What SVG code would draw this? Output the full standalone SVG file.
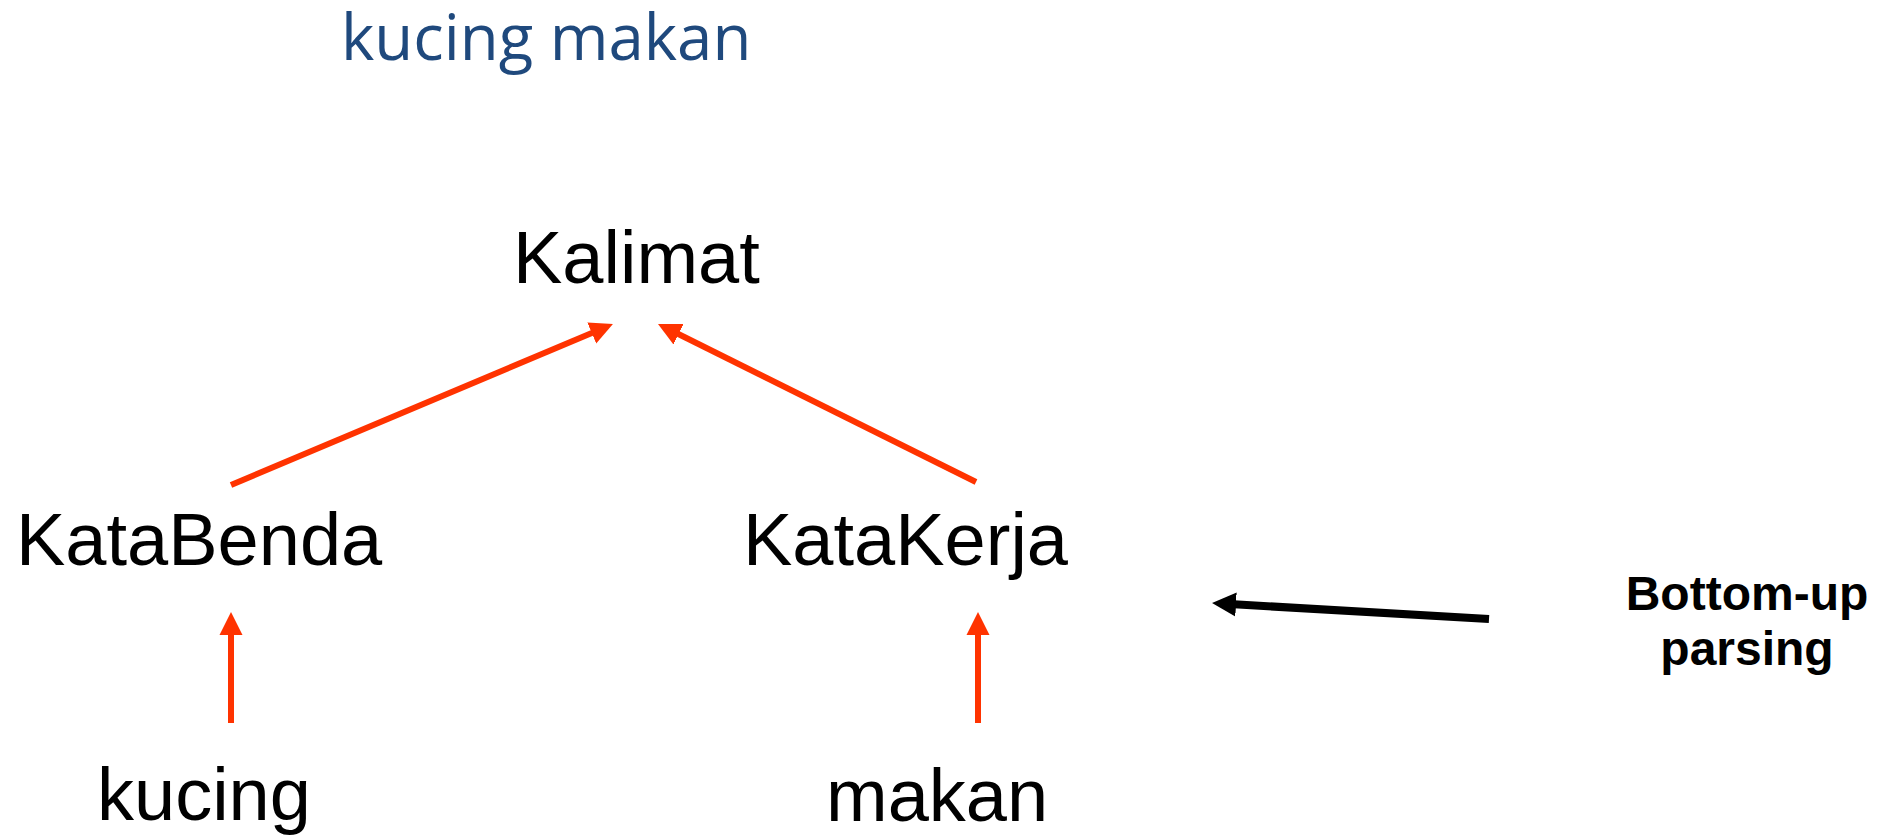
<svg xmlns="http://www.w3.org/2000/svg" width="1890" height="836" viewBox="0 0 1890 836">
<style>
.n{font-family:"Liberation Sans",Arial,sans-serif;font-size:74px;fill:#000}
.t{font-family:"Open Sans","Noto Sans",sans-serif;font-size:63.5px;fill:#1F497D}
.b{font-family:"Liberation Sans",Arial,sans-serif;font-size:48px;font-weight:bold;fill:#000;text-anchor:middle}
.r{stroke:#FF3300;stroke-width:6;fill:none}
.k{stroke:#000;stroke-width:8;fill:none}
</style>
<defs>
<marker id="ar" markerUnits="userSpaceOnUse" viewBox="0 -12 24 24" markerWidth="24" markerHeight="24" refX="2" refY="0" orient="auto"><path d="M0,-11.5 L23,0 L0,11.5 z" fill="#FF3300"/></marker>
<marker id="ak" markerUnits="userSpaceOnUse" viewBox="0 -13 25 26" markerWidth="25" markerHeight="26" refX="2" refY="0" orient="auto"><path d="M0,-12 L24,0 L0,12 z" fill="#000"/></marker>
</defs>
<text class="t" x="341" y="60">kucing makan</text>
<g id="kalimat"><text class="n" x="513" y="283">Kalimat</text></g>
<g id="katabenda"><text class="n" x="16" y="565">KataBenda</text></g>
<g id="katakerja"><text class="n" x="743" y="565">KataKerja</text></g>
<g id="kucing"><text class="n" x="97" y="820">kucing</text></g>
<g id="makan"><text class="n" x="826" y="821">makan</text></g>
<g id="label"><text class="b" x="1747" y="610">Bottom-up</text><text class="b" x="1747" y="665">parsing</text></g>
<g id="connectors">
<line class="r" x1="231" y1="485" x2="593.6" y2="332.2" marker-end="url(#ar)"/>
<line class="r" x1="976" y1="482" x2="676.8" y2="333.3" marker-end="url(#ar)"/>
<line class="r" x1="231" y1="723" x2="231" y2="633" marker-end="url(#ar)"/>
<line class="r" x1="978" y1="723" x2="978" y2="633" marker-end="url(#ar)"/>
<line class="k" x1="1489" y1="619" x2="1234" y2="604.3" marker-end="url(#ak)"/>
</g>
</svg>
